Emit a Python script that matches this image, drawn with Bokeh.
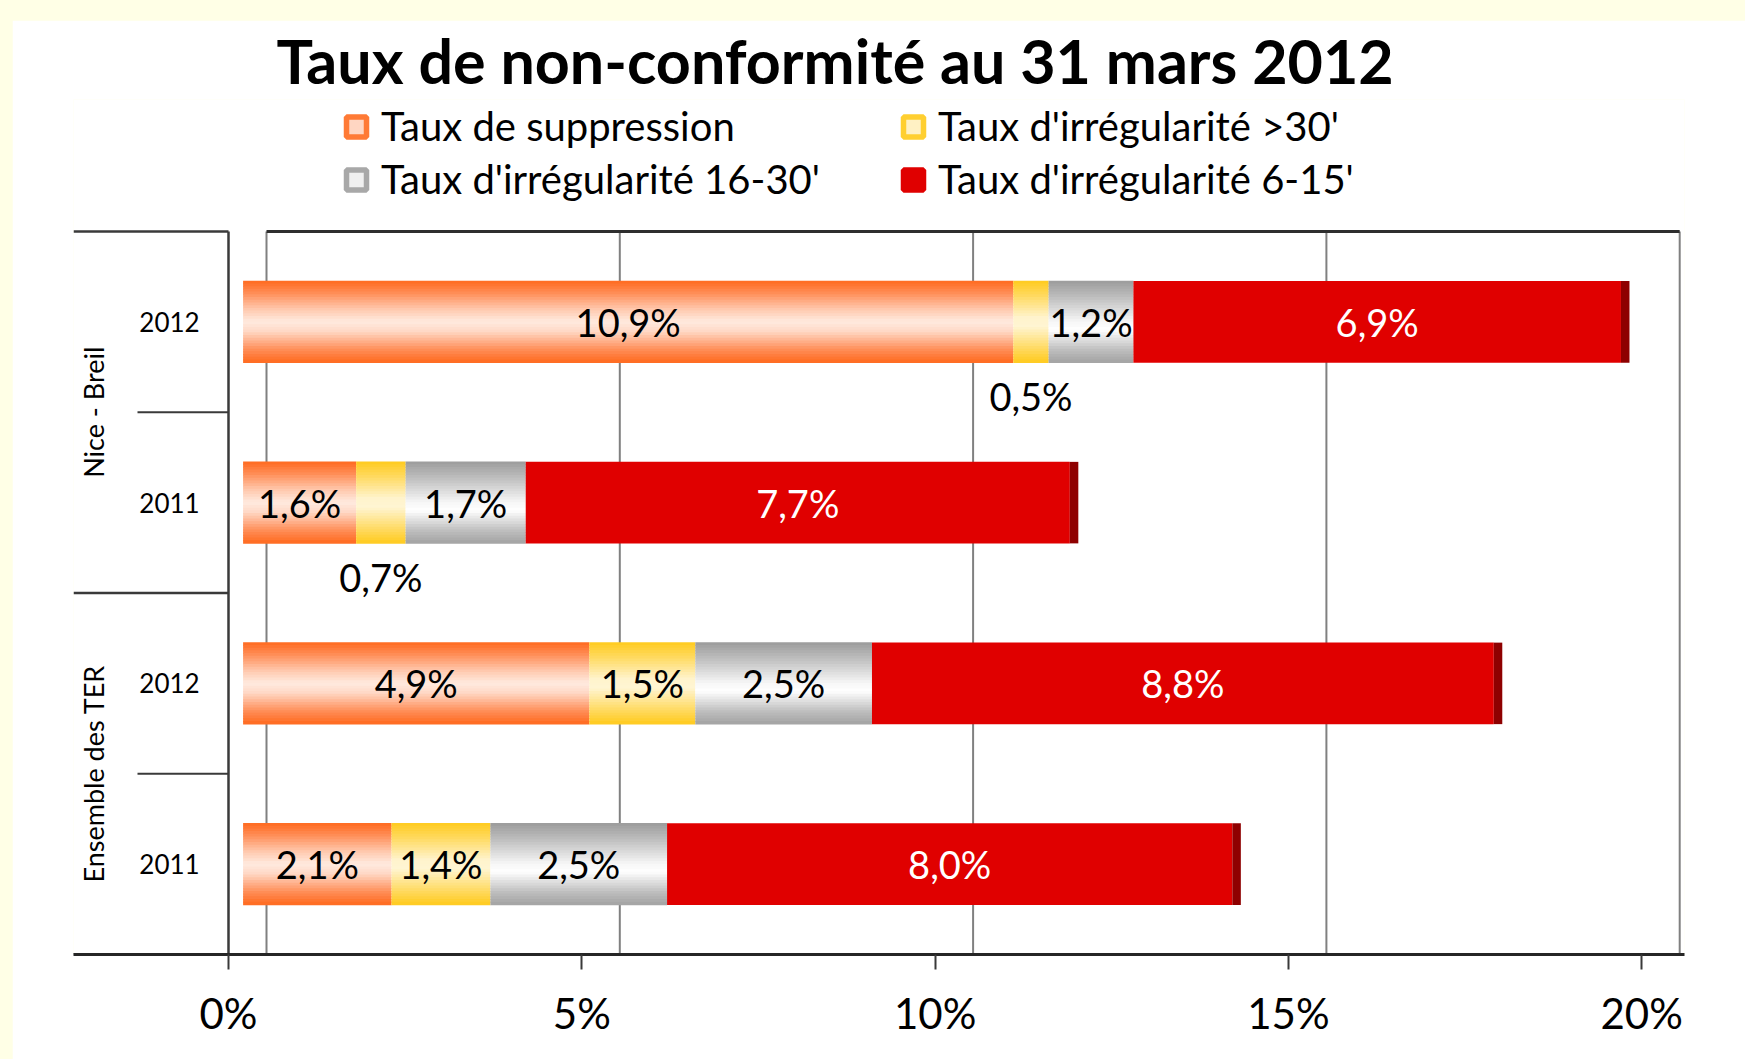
import math
from bokeh.plotting import figure
from bokeh.models import (ColumnDataSource, Range1d, FixedTicker,
                          CustomJSTickFormatter, Legend, LegendItem)
from bokeh.transform import dodge, stack
from bokeh.layouts import column
from bokeh.embed import file_html
from bokeh.resources import INLINE
from bokeh.core.properties import value

# ---------------- data ----------------
title_text = "Taux de non-conformité au 31 mars 2012"
groups = ["Nice - Breil", "Nice - Breil", "Ensemble des TER", "Ensemble des TER"]
years = ["2012", "2011", "2012", "2011"]
series_names = ["Taux de suppression", "Taux d'irrégularité >30'",
                "Taux d'irrégularité 16-30'", "Taux d'irrégularité 6-15'"]
suppression = [10.9, 1.6, 4.9, 2.1]
irr_30 = [0.5, 0.7, 1.5, 1.4]
irr_16_30 = [1.2, 1.7, 2.5, 2.5]
irr_6_15 = [6.9, 7.7, 8.8, 8.0]
x_ticks = [0, 5, 10, 15, 20]

# ---------------- layout / style ----------------
FONT = "Lato"
FIG_W, FIG_H = 1733, 1039
B_L, B_R, B_T, B_B = 61, 61, 79, 105
FRAME_W = FIG_W - B_L - B_R
FRAME_H = FIG_H - B_T - B_B
ROW_PX = 180.75       # pixels per category row
PX = 70.66            # pixels per percent
AXIS_ZERO = 155.0     # px from frame left: front axis origin
BAR_ZERO = 169.6      # px from frame left: bar origin (mid depth)
WALL_ZERO = 193.0     # px from frame left: back wall origin
BAR_H = 0.451
N_STRIPS = 30
SIDE_W = 8.5 / PX
YEAR_X = -59 / PX
GROUP_X = -135 / PX
YEAR_SEP_X = -91 / PX
BELOW_OFF = 0.41
LEG_TOP = 79.5        # legend box top, px from figure top
LEG_H = 106
LEG_X = 258           # legend box left, px from frame left

ORANGE = [(0.0, "#FF6A1F"), (0.14, "#FF8A52"), (0.34, "#FFC6AA"), (0.5, "#FFEADF"),
          (0.62, "#FFD9C6"), (0.84, "#FF8F5A"), (1.0, "#FF6A1F")]
YELLOW = [(0.0, "#FFCB1E"), (0.18, "#FFD95E"), (0.45, "#FFF3CC"), (0.56, "#FFF5D3"),
          (0.82, "#FFDB66"), (1.0, "#FFCB1E")]
GRAY = [(0.0, "#9B9B9B"), (0.2, "#BEBEBE"), (0.5, "#F6F6F6"), (0.6, "#FFFFFF"),
        (0.84, "#C0C0C0"), (1.0, "#A3A3A3")]
RED = "#E00000"
RED_SIDE = "#8E0000"
LEGEND_FILL = ["#FFD6C2", "#FFF1C4", "#F0F0F0", RED]
LEGEND_LINE = ["#FF7A35", "#FFCF30", "#A8A8A8", RED]


def _rgb(h):
    h = h.lstrip("#")
    return tuple(int(h[i:i + 2], 16) for i in (0, 2, 4))


def grad(stops, t):
    for (t0, c0), (t1, c1) in zip(stops[:-1], stops[1:]):
        if t0 <= t <= t1:
            f = (t - t0) / (t1 - t0) if t1 > t0 else 0
            a, b = _rgb(c0), _rgb(c1)
            return "#%02X%02X%02X" % tuple(round(a[i] + (b[i] - a[i]) * f) for i in range(3))
    return stops[-1][1]


def fmt(v):
    return f"{v:.1f}".replace(".", ",") + "%"


N = len(years)
ypos = [N - 0.5 - i for i in range(N)]          # category rows, first one on top

p = figure(width=FIG_W, height=FIG_H, output_backend="svg", toolbar_location=None,
           x_range=Range1d(-AXIS_ZERO / PX, (FRAME_W - AXIS_ZERO) / PX),
           y_range=Range1d(0, FRAME_H / ROW_PX),
           y_axis_location=None, x_axis_location="below",
           min_border_left=B_L, min_border_right=B_R, min_border_top=B_T, min_border_bottom=B_B)
p.margin = (20, 0, 0, 12)
p.extra_x_ranges = {
    "bars": Range1d(-BAR_ZERO / PX, (FRAME_W - BAR_ZERO) / PX),
    "wall": Range1d(-WALL_ZERO / PX, (FRAME_W - WALL_ZERO) / PX),
}
p.background_fill_color = "white"
p.border_fill_color = "white"
p.outline_line_color = None
p.grid.visible = False

# back wall (3D) grid lines and top edge
p.segment(x0=x_ticks, x1=x_ticks, y0=[0] * len(x_ticks), y1=[N] * len(x_ticks),
          x_range_name="wall", line_color="#808080", line_width=2)
p.segment(x0=[x_ticks[0]], x1=[x_ticks[-1]], y0=[N], y1=[N], x_range_name="wall",
          line_color="#2E2E2E", line_width=3)

# category separators in the label area and front vertical axis line
grp_b = [0, N] + [N - i for i in range(1, N) if groups[i] != groups[i - 1]]
sub_b = [N - i for i in range(1, N) if groups[i] == groups[i - 1]]
p.segment(x0=[p.x_range.start] * len(grp_b), x1=[0] * len(grp_b), y0=grp_b, y1=grp_b,
          line_color="#3A3A3A", line_width=2.5)
p.segment(x0=[YEAR_SEP_X] * len(sub_b), x1=[0] * len(sub_b), y0=sub_b, y1=sub_b,
          line_color="#3A3A3A", line_width=2)
p.segment(x0=[0], x1=[0], y0=[0], y1=[N], line_color="#3A3A3A", line_width=2.5)

# bars
totals = [a + b + c + d for a, b, c, d in zip(suppression, irr_30, irr_16_30, irr_6_15)]
src = ColumnDataSource(dict(y=ypos, s1=suppression, s2=irr_30, s3=irr_16_30, s4=irr_6_15,
                            total=totals, side=[t + SIDE_W for t in totals]))
for k in range(N_STRIPS):
    t = (k + 0.5) / N_STRIPS
    off = BAR_H / 2 - t * BAR_H
    p.hbar_stack(["s1", "s2", "s3"], y=dodge("y", off), height=BAR_H / N_STRIPS * 1.3,
                 source=src, x_range_name="bars",
                 fill_color=[grad(ORANGE, t), grad(YELLOW, t), grad(GRAY, t)], line_color=None)
p.hbar(y="y", height=BAR_H, left=stack("s1", "s2", "s3"), right=stack("s1", "s2", "s3", "s4"),
       source=src, x_range_name="bars", fill_color=RED, line_color=None)
p.hbar(y="y", height=BAR_H, left="total", right="side", source=src, x_range_name="bars",
       fill_color=RED_SIDE, line_color=None)

# value labels
series = [suppression, irr_30, irr_16_30, irr_6_15]
ins = dict(x=[], y=[], text=[], color=[])
out = dict(x=[], y=[], text=[], color=[])
mids = [[] for _ in series]
for i in range(N):
    cum = 0.0
    for j, s in enumerate(series):
        v = s[i]
        d = ins if v >= 1.0 else out
        d["x"].append(cum + v / 2)
        d["y"].append(ypos[i])
        d["text"].append(fmt(v))
        d["color"].append("#FFFFFF" if j == 3 else "#000000")
        mids[j].append(cum + v / 2)
        cum += v
p.text(x="x", y="y", text="text", text_color="color", source=ColumnDataSource(ins),
       x_range_name="bars", text_align="center", text_baseline="middle",
       text_font=value(FONT), text_font_size="38px")
p.text(x="x", y=dodge("y", -BELOW_OFF), text="text", text_color="color",
       source=ColumnDataSource(out), x_range_name="bars", text_align="center",
       text_baseline="middle", text_font=value(FONT), text_font_size="38px")

# category labels (years and rotated groups)
p.text(x=[YEAR_X] * N, y=ypos, text=years, text_align="center", text_baseline="middle",
       text_font=value(FONT), text_font_size="26px", text_color="#000000")
ugroups = list(dict.fromkeys(groups))
gy = [sum(y for g, y in zip(groups, ypos) if g == u) / groups.count(u) for u in ugroups]
p.text(x=[GROUP_X] * len(ugroups), y=gy, text=ugroups, angle=math.pi / 2,
       text_align="center", text_baseline="middle", text_font=value(FONT),
       text_font_size="27px", text_color="#000000")

# x axis
ax = p.xaxis[0]
ax.ticker = FixedTicker(ticks=x_ticks)
ax.formatter = CustomJSTickFormatter(code="return tick + '%';")
ax.major_label_text_font = FONT
ax.major_label_text_font_size = "42px"
ax.major_label_text_color = "#000000"
ax.major_label_standoff = 18
ax.major_tick_out = 15
ax.major_tick_in = 0
ax.minor_tick_out = 0
ax.minor_tick_in = 0
ax.major_tick_line_color = "#3A3A3A"
ax.major_tick_line_width = 2
ax.axis_line_color = "#262626"
ax.axis_line_width = 3

# legend (zero-size markers at the segment centres carry the legend swatches)
lr = []
for j, (f, l) in enumerate(zip(LEGEND_FILL, LEGEND_LINE)):
    lsrc = ColumnDataSource(dict(x=mids[j], y=ypos))
    lr.append(p.scatter(x="x", y="y", source=lsrc, x_range_name="bars", marker="square",
                        size=0, fill_color=f, line_color=l, line_width=5.5))
legend = Legend(items=[LegendItem(label=n, renderers=[r]) for n, r in zip(series_names, lr)],
                orientation="horizontal", ncols=2,
                location=(LEG_X, FRAME_H - (LEG_TOP - B_T) - LEG_H),
                glyph_width=50, glyph_height=53, label_standoff=0, label_width=507,
                spacing=0, padding=0, margin=0, border_line_color=None,
                background_fill_alpha=0, label_text_font=FONT, label_text_font_size="40px",
                label_text_color="#000000")
p.add_layout(legend, "center")

# title
p.title.text = title_text
p.title.text_font = FONT
p.title.text_font_size = "61px"
p.title.text_font_style = "bold"
p.title.text_color = "#000000"
p.title.align = "left"
p.title.offset = 203
p.title.vertical_align = "middle"
p.title.standoff = 4

page = column(p, styles={"background-color": "#FFFFE6"})
open("out.html", "w").write(file_html(page, INLINE, title_text))
